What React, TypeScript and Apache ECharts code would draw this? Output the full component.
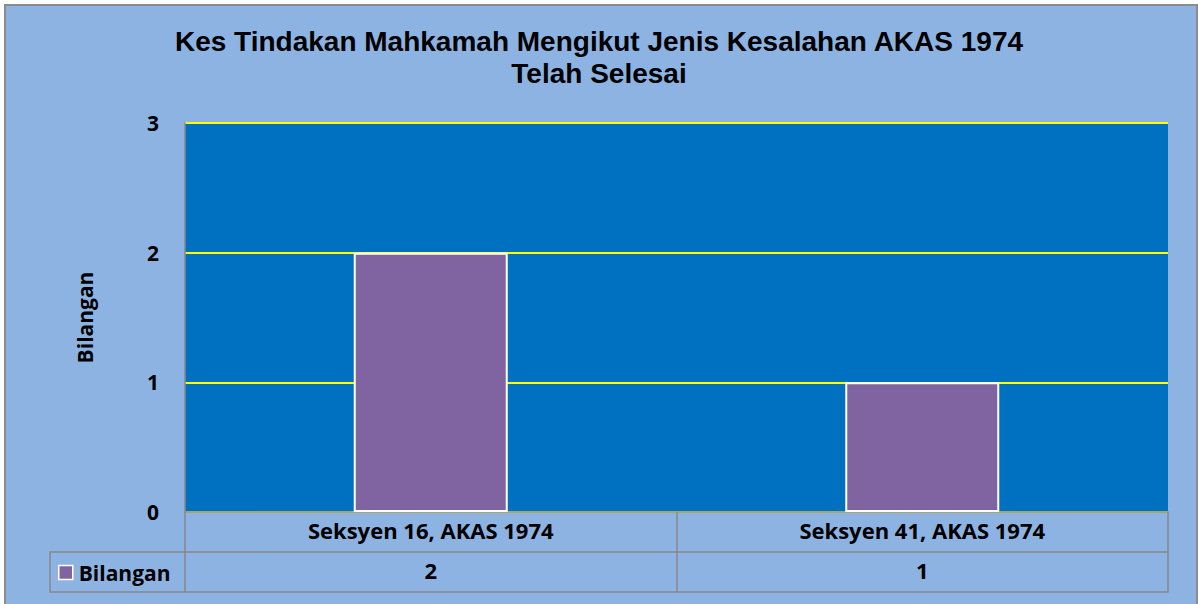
import React, { useEffect, useRef } from "react";
import * as echarts from "echarts";

const titleLines = ["Kes Tindakan Mahkamah Mengikut Jenis Kesalahan AKAS 1974", "Telah Selesai"];
const categories = ["Seksyen 16, AKAS 1974", "Seksyen 41, AKAS 1974"];
const seriesName = "Bilangan";
const values = [2, 1];
const yAxisName = "Bilangan";

const FONT = "Open Sans";
const GRAY = "#888888";

export default function App() {
  const ref = useRef<HTMLDivElement>(null);
  useEffect(() => {
    document.body.style.margin = "0";
    const chart = echarts.init(ref.current!, null, { renderer: "svg" });
    const gridL = 185, gridR = 30, gridT = 123, gridB = 92;
    const plotBottom = 604 - gridB;
    chart.setOption({
      animation: false,
      backgroundColor: "#ffffff",
      title: {
        text: titleLines.join("\n"),
        left: "center",
        top: 20,
        textStyle: {
          fontFamily: "Arial, 'Liberation Sans', sans-serif",
          fontWeight: "bold",
          fontSize: 28,
          lineHeight: 32.5,
          color: "#000",
        },
      },
      legend: {
        data: [seriesName],
        left: 53,
        top: plotBottom + 45,
        icon: "rect",
        itemWidth: 14,
        itemHeight: 14,
        itemGap: 5,
        itemStyle: { color: "#8064A2", borderColor: "#ffffff", borderWidth: 1.5 },
        textStyle: { fontFamily: FONT, fontWeight: "bold", fontSize: 21, color: "#000", padding: [0, 0, 0, 1] },
      },
      grid: {
        left: gridL,
        right: gridR,
        top: gridT,
        bottom: gridB,
        show: true,
        backgroundColor: "#0070C0",
        borderWidth: 0,
      },
      xAxis: [
        {
          type: "category",
          data: categories,
          position: "bottom",
          axisLine: { show: true, lineStyle: { color: GRAY, width: 1.5 } },
          axisTick: { show: true, interval: 0, length: 80, lineStyle: { color: GRAY, width: 1.5 } },
          axisLabel: { interval: 0, margin: 7, fontFamily: FONT, fontWeight: "bold", fontSize: 22, color: "#000" },
        },
        {
          type: "category",
          data: values.map((v) => String(v)),
          position: "bottom",
          offset: 40,
          axisLine: { show: true, lineStyle: { color: GRAY, width: 1.5 } },
          axisTick: { show: false },
          axisLabel: { interval: 0, margin: 7, fontFamily: FONT, fontWeight: "bold", fontSize: 22, color: "#000" },
        },
        {
          type: "category",
          data: categories,
          position: "bottom",
          offset: 80,
          axisLine: { show: true, lineStyle: { color: GRAY, width: 1.5 } },
          axisTick: { show: false },
          axisLabel: { show: false },
        },
      ],
      yAxis: {
        type: "value",
        min: 0,
        max: 3,
        interval: 1,
        name: yAxisName,
        nameLocation: "middle",
        nameGap: 90,
        nameRotate: 90,
        nameTextStyle: { fontFamily: FONT, fontWeight: "bold", fontSize: 21, color: "#000" },
        axisLine: { show: true, lineStyle: { color: GRAY, width: 1.5 } },
        axisTick: { show: false },
        axisLabel: { margin: 26, fontFamily: FONT, fontWeight: "bold", fontSize: 21, color: "#000" },
        splitLine: { show: true, lineStyle: { color: "#FFFF00", width: 2 } },
      },
      series: [
        {
          name: seriesName,
          type: "bar",
          xAxisIndex: 0,
          data: values,
          barWidth: 154,
          itemStyle: { color: "#8064A2", borderColor: "#ffffff", borderWidth: 2 },
        },
      ],
      graphic: [
        {
          type: "rect",
          z: -100,
          silent: true,
          shape: { x: 5, y: 5, width: 1192, height: 700 },
          style: { fill: "#8DB3E2", stroke: "#8c8c8c", lineWidth: 2 },
        },
        {
          type: "polyline",
          silent: true,
          shape: { points: [[gridL, plotBottom + 40], [50, plotBottom + 40], [50, plotBottom + 80], [gridL, plotBottom + 80]] },
          style: { fill: "none", stroke: GRAY, lineWidth: 1.5 },
        },
      ],
    });
    return () => chart.dispose();
  }, []);
  return <div ref={ref} style={{ position: "absolute", left: 0, top: 0, width: 1198, height: 604 }} />;
}
